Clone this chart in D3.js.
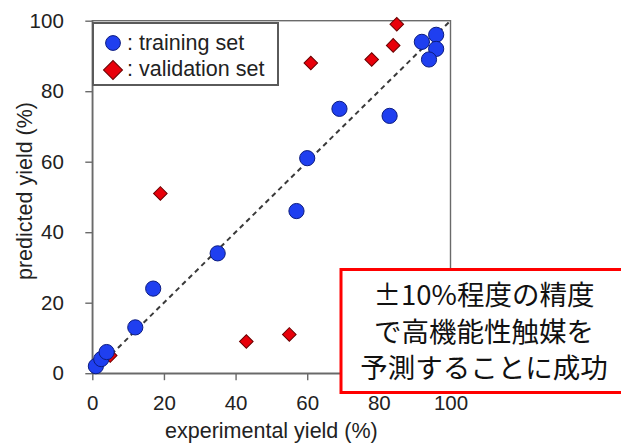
<!DOCTYPE html>
<html><head><meta charset="utf-8">
<script src="https://cdn.jsdelivr.net/npm/d3@7"></script>
<style>body{margin:0;background:#fff}svg{display:block}</style>
</head><body>
<svg id="c" width="621" height="443"></svg>
<script>
// ---- data ----
const trainX = [1, 2.5, 4, 12, 17, 35, 57, 60, 69, 83, 92, 96, 96, 94];
const trainY = [2, 4, 6, 13, 24, 34, 46, 61, 75, 73, 94, 96, 92, 89];
const validX = [5, 19, 43, 55, 61, 78, 84, 85];
const validY = [5, 51, 9, 11, 88, 89, 93, 99];
const xTicks = [0, 20, 40, 60, 80, 100];
const yTicks = [0, 20, 40, 60, 80, 100];
const legendLabels = [": training set", ": validation set"];
const xTitle = "experimental yield (%)";
const yTitle = "predicted yield (%)";
const noteLines = ["±10%程度の精度", "で高機能性触媒を", "予測することに成功"];

const svg = d3.select("#c");
const x = d3.scaleLinear().domain([0, 100]).range([92.3, 450.5]);
const y = d3.scaleLinear().domain([0, 100]).range([373.2, 20.7]);
const axisCol = "#6a6a6a";
const font = "'Liberation Sans', Arial, Helvetica, sans-serif";

// axes
const gx = svg.append("g").attr("transform", `translate(0,${y(0)})`)
  .call(d3.axisBottom(x).tickValues(xTicks).tickSize(7).tickSizeOuter(0).tickPadding(15));
const gy = svg.append("g").attr("transform", `translate(${x(0)},0)`)
  .call(d3.axisLeft(y).tickValues(yTicks).tickSize(7).tickSizeOuter(0).tickPadding(21.5));
[gx, gy].forEach(g => {
  g.selectAll("path,line").attr("stroke", axisCol).attr("stroke-width", 1.4);
  g.selectAll("text").attr("font-family", font).attr("font-size", 20.5).attr("fill", "#222");
});
// frame
svg.append("rect").attr("x", x(0)).attr("y", y(100))
  .attr("width", x(100) - x(0)).attr("height", y(0) - y(100))
  .attr("fill", "none").attr("stroke", axisCol).attr("stroke-width", 1.4);

// diagonal dashed line
svg.append("line").attr("x1", x(0)).attr("y1", y(0)).attr("x2", x(100)).attr("y2", y(100))
  .attr("stroke", "#3a3a3a").attr("stroke-width", 2).attr("stroke-dasharray", "5,4");

const blueF = "#1f3ff0", blueS = "#0c1c80", redF = "#e8000a", redS = "#6a0000";
const diamond = (h) => d3.symbol().type(d3.symbolSquare).size(2 * h * h)();

// validation set
svg.append("g").selectAll("path").data(validX.map((v, i) => [v, validY[i]])).join("path")
  .attr("d", diamond(6.8))
  .attr("transform", d => `translate(${x(d[0])},${y(d[1])}) rotate(45)`)
  .attr("fill", redF).attr("stroke", redS).attr("stroke-width", 1);

// training set
svg.append("g").selectAll("circle").data(trainX.map((v, i) => [v, trainY[i]])).join("circle")
  .attr("cx", d => x(d[0])).attr("cy", d => y(d[1])).attr("r", 7.6)
  .attr("fill", blueF).attr("stroke", blueS).attr("stroke-width", 1);

// legend
const lg = svg.append("g");
lg.append("rect").attr("x", 93).attr("y", 23).attr("width", 185).attr("height", 62)
  .attr("fill", "#fff").attr("stroke", "#5a5a5a").attr("stroke-width", 2);
lg.append("circle").attr("cx", 113).attr("cy", 43).attr("r", 7.4)
  .attr("fill", blueF).attr("stroke", blueS).attr("stroke-width", 1);
lg.append("path").attr("d", diamond(9.5)).attr("transform", "translate(113,70) rotate(45)")
  .attr("fill", redF).attr("stroke", redS).attr("stroke-width", 1);
lg.selectAll("text").data(legendLabels).join("text")
  .attr("x", 127).attr("y", (d, i) => 49.5 + i * 26.5)
  .attr("font-family", font).attr("font-size", 21.5).attr("fill", "#222").text(d => d);

// axis titles
svg.append("text").attr("x", (x(0) + x(100)) / 2).attr("y", 438).attr("text-anchor", "middle")
  .attr("font-family", font).attr("font-size", 21.5).attr("fill", "#222").text(xTitle);
svg.append("text").attr("transform", "translate(32,191) rotate(-90)").attr("text-anchor", "middle")
  .attr("font-family", font).attr("font-size", 21.5).attr("fill", "#222").text(yTitle);

// annotation box
svg.append("rect").attr("x", 341).attr("y", 269.5).attr("width", 300).attr("height", 123)
  .attr("fill", "#fff").attr("stroke", "#ff0000").attr("stroke-width", 3);
svg.append("g").selectAll("text").data(noteLines).join("text")
  .attr("x", 484).attr("y", (d, i) => 305 + i * 36.5).attr("text-anchor", "middle")
  .attr("font-family", "'Noto Sans CJK JP', sans-serif").attr("font-size", 27.5).attr("fill", "#111")
  .text(d => d);
</script>
</body></html>
